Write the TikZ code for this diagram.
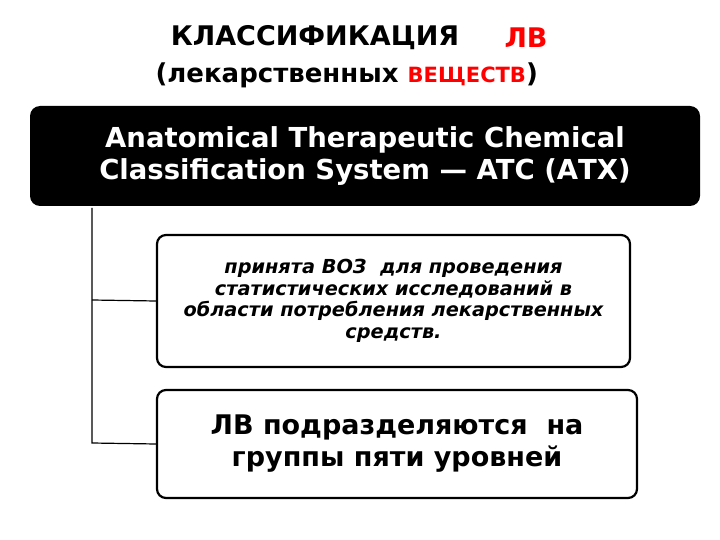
\documentclass[tikz,border=0pt]{standalone}
\usepackage{fontspec}
\setmainfont{DejaVu Sans}
\begin{document}
\begin{tikzpicture}[x=1pt,y=-1pt,
  wbox/.style={draw=black,line width=2.2pt,fill=white,rounded corners=9pt,align=center,inner sep=0pt},
  conn/.style={line width=1.2pt}]
\useasboundingbox (0,0) rectangle (720,540);
\node[font=\bfseries\fontsize{27}{30}\selectfont] (t1) at (315,38) {КЛАССИФИКАЦИЯ};
\node[font=\bfseries\fontsize{27}{30}\selectfont,text=red] (t2) at (526,38) {ЛВ};
\node[font=\bfseries\fontsize{26}{30}\selectfont,anchor=west] (t3) at (152,75) {(лекарственных {\color{red}\fontsize{21}{24}\selectfont ВЕЩЕСТВ})};
\node[fill=black,rounded corners=10pt,minimum width=670pt,minimum height=100pt,text=white,
  font=\bfseries\fontsize{27.5}{32}\selectfont,align=center] (b1) at (365,156)
  {Anatomical Therapeutic Chemical\\Classification System — ATC (АТХ)};
\node[wbox,minimum width=473pt,minimum height=132pt,font=\bfseries\itshape\fontsize{19.3}{21.5}\selectfont] (b2) at (393.5,301)
  {принята ВОЗ~ для проведения\\статистических исследований в\\области потребления лекарственных\\средств.};
\node[wbox,minimum width=480pt,minimum height=108pt,font=\bfseries\fontsize{27}{32}\selectfont] (b3) at (397,444)
  {ЛВ подразделяются~ на\\группы пяти уровней};
\coordinate (c0) at (92,208);
\coordinate (c1) at (92,300);
\coordinate (c2) at (92,443);
\draw[conn] (c0) -- (c2) -- (b3.west);
\draw[conn] (c1) -- (b2.west);
\end{tikzpicture}
\end{document}
